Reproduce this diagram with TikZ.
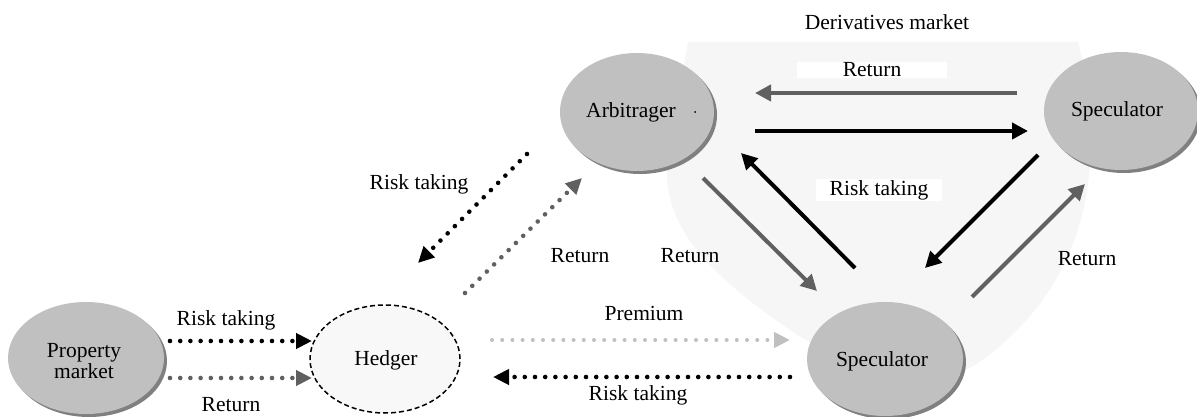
\documentclass[tikz,border=0pt]{standalone}
\usepackage{fontspec}
\setmainfont{Liberation Serif}
\usetikzlibrary{arrows.meta,shapes.geometric,shadows,calc}
\definecolor{nodegray}{RGB}{192,192,192}
\definecolor{shadowgray}{RGB}{128,128,128}
\definecolor{darkarrow}{RGB}{96,96,96}
\definecolor{lightarrow}{RGB}{192,192,192}
\definecolor{regionfill}{RGB}{246,246,246}
\definecolor{hedgerfill}{RGB}{248,248,248}
\begin{document}
\begin{tikzpicture}[x=1pt,y=-1pt,
  every node/.style={font=\fontsize{21.5}{24}\selectfont},
  actor/.style={ellipse,fill=nodegray,inner sep=0pt,
    drop shadow={shadow xshift=3pt,shadow yshift=-3pt,fill=shadowgray,opacity=1}},
  lbl/.style={inner sep=1pt},
  solidarr/.style={line width=4pt,-{Triangle[length=16pt,width=16pt]}},
  dotarr/.style={line width=4.6pt,line cap=round,dash pattern=on 0pt off 10.2pt,
    -{Triangle[length=16pt,width=15pt]}},
  liteda/.style={line width=4pt,line cap=round,dash pattern=on 0pt off 10.2pt,
    -{Triangle[length=16pt,width=15pt]}}]
\useasboundingbox (0,0) rectangle (1197,417);
% derivatives market region
\fill[regionfill] (688,42) -- (1078,42) .. controls (1110,170) and (1085,290) .. (975,365)
  .. controls (930,392) and (840,365) .. (790,330)
  .. controls (705,272) and (660,222) .. (668,160) -- cycle;
% nodes
\node[actor,minimum width=156pt,minimum height=112pt] (pm) at (86,358) {};
\node[align=center] (pmt) at (84,361) {Property\\[-3pt]market};
\node[ellipse,draw,dashed,line width=1.5pt,dash pattern=on 5pt off 3pt,fill=hedgerfill,
  minimum width=150pt,minimum height=108pt,inner sep=0pt] (hedger) at (385,359) {};
\node (hedgert) at (386,360) {Hedger};
\node[actor,minimum width=154pt,minimum height=118pt] (arb) at (637,112) {};
\node (arbt) at (631,112) {Arbitrager};
\node[fill=black,circle,inner sep=0pt,minimum size=2pt] (dot) at (695,112) {};
\node[actor,minimum width=154pt,minimum height=118pt] (specT) at (1121,111) {};
\node (specTt) at (1117,111) {Speculator};
\node[actor,minimum width=156pt,minimum height=114pt] (specB) at (885,359) {};
\node (specBt) at (882,361) {Speculator};
% labels
\node[lbl] (dm) at (887,22) {Derivatives market};
\node[lbl,fill=white,minimum width=150pt] (l7) at (872,70) {Return};
\node[lbl,fill=white,minimum width=126pt] (l9) at (879,190) {Risk taking};
\node[lbl] (l12) at (1087,259) {Return};
\node[lbl] (l10) at (690,256) {Return};
\node[lbl] (l5) at (580,256) {Return};
\node[lbl] (l6) at (419,184) {Risk taking};
\node[lbl] (l3) at (644,313) {Premium};
\node[lbl] (l4) at (638,395) {Risk taking};
\node[lbl] (l1) at (226,320) {Risk taking};
\node[lbl] (l2) at (231,405) {Return};
% connectors
\draw[dotarr,black] ($(pm)+(84,-17)$) -- ($(hedger)+(-73,-18)$);
\draw[dotarr,darkarrow] ($(pm)+(84,20)$) -- ($(hedger)+(-73,19)$);
\draw[liteda,lightarrow] ($(hedger)+(107,-19)$) -- ($(specB)+(-95,-19)$);
\draw[dotarr,black] ($(specB)+(-95,18)$) -- ($(hedger)+(108,18)$);
\draw[dotarr,darkarrow] ($(hedger)+(80,-66)$) -- ($(arb)+(-55,66)$);
\draw[dotarr,black] ($(arb)+(-110,42)$) -- ($(hedger)+(33,-96)$);
\draw[solidarr,darkarrow] ($(specT)+(-104,-18)$) -- ($(arb)+(118,-19)$);
\draw[solidarr,black] ($(arb)+(118,19)$) -- ($(specT)+(-93,20)$);
\draw[solidarr,black] ($(specB)+(-30,-91)$) -- ($(arb)+(104,41)$);
\draw[solidarr,darkarrow] ($(arb)+(66,66)$) -- ($(specB)+(-68,-68)$);
\draw[solidarr,black] ($(specT)+(-83,44)$) -- ($(specB)+(40,-91)$);
\draw[solidarr,darkarrow] ($(specB)+(87,-62)$) -- ($(specT)+(-36,73)$);
\end{tikzpicture}
\end{document}
